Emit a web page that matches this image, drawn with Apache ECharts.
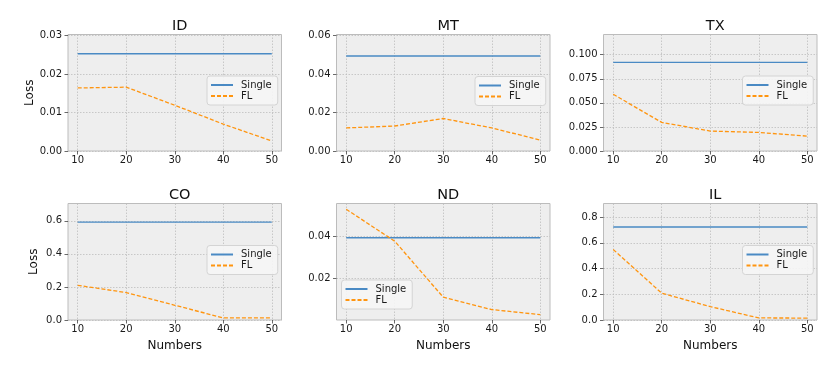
<!DOCTYPE html>
<html>
<head>
<meta charset="utf-8">
<script src="https://cdn.jsdelivr.net/npm/echarts@6/dist/echarts.min.js"></script>
<style>html,body{margin:0;padding:0;background:#fff}#c{width:831px;height:373px}</style>
</head>
<body>
<div id="c"></div>
<script>
var numbers = [10, 20, 30, 40, 50];
var titles = ['ID', 'MT', 'TX', 'CO', 'ND', 'IL'];

var idSingle = [0.0253, 0.0253, 0.0253, 0.0253, 0.0253];
var idFL = [0.0164, 0.0166, 0.0119, 0.0070, 0.0026];
var mtSingle = [0.0494, 0.0494, 0.0494, 0.0494, 0.0494];
var mtFL = [0.0120, 0.0130, 0.0169, 0.0120, 0.0057];
var txSingle = [0.0920, 0.0920, 0.0920, 0.0920, 0.0920];
var txFL = [0.0589, 0.0297, 0.0207, 0.0193, 0.0155];
var coSingle = [0.592, 0.592, 0.592, 0.592, 0.592];
var coFL = [0.210, 0.166, 0.089, 0.013, 0.013];
var ndSingle = [0.0392, 0.0392, 0.0392, 0.0392, 0.0392];
var ndFL = [0.0526, 0.0376, 0.0113, 0.0055, 0.0031];
var ilSingle = [0.722, 0.722, 0.722, 0.722, 0.722];
var ilFL = [0.548, 0.208, 0.104, 0.016, 0.015];

var xTicks = [10, 20, 30, 40, 50];
var idTicks = [0, 0.01, 0.02, 0.03];
var mtTicks = [0, 0.02, 0.04, 0.06];
var txTicks = [0, 0.025, 0.05, 0.075, 0.1];
var coTicks = [0, 0.2, 0.4, 0.6];
var ndTicks = [0.02, 0.04];
var ilTicks = [0, 0.2, 0.4, 0.6, 0.8];

var singles = [idSingle, mtSingle, txSingle, coSingle, ndSingle, ilSingle];
var fls = [idFL, mtFL, txFL, coFL, ndFL, ilFL];
var yTicks = [idTicks, mtTicks, txTicks, coTicks, ndTicks, ilTicks];
var yMin = [0, 0, 0, 0, 0.0006, 0];
var yMax = [0.0303, 0.0606, 0.121, 0.705, 0.0553, 0.905];
var yDec = [2, 2, 3, 1, 2, 1];

var colLeft = [68, 336.5, 603.5];
var rowTop = [34.5, 203.5];
var gw = 213.5, gh = 116.5;
var legendPos = [[207, 76], [475, 76.5], [742.5, 76], [207, 245.5], [341.5, 280], [742.5, 245.5]];

var BLUE = '#4a8ac4', ORANGE = '#ff9510';
var grid = [], xAxis = [], yAxis = [], series = [], title = [], legend = [];

for (var i = 0; i < 6; i++) {
  var r = Math.floor(i / 3), c = i % 3;
  grid.push({left: colLeft[c], top: rowTop[r], width: gw, height: gh, show: true,
    backgroundColor: '#eeeeee', borderColor: '#bcbcbc', borderWidth: 1, containLabel: false});
  title.push({text: titles[i], left: colLeft[c] + gw / 2, top: rowTop[r] - 21, textAlign: 'center',
    textStyle: {fontFamily: 'DejaVu Sans', fontSize: 14.5, fontWeight: 'normal', color: '#111'}});
  xAxis.push({type: 'value', gridIndex: i, min: 8, max: 52,
    name: r === 1 ? 'Numbers' : '', nameLocation: 'middle', nameGap: 20,
    nameTextStyle: {fontFamily: 'DejaVu Sans', fontSize: 12, color: '#111'},
    axisLine: {show: false},
    axisTick: {show: true, length: 3.5, customValues: xTicks, lineStyle: {color: '#444', width: 0.8}},
    axisLabel: {customValues: xTicks, margin: 4, fontFamily: 'DejaVu Sans', fontSize: 10, color: '#1a1a1a'},
    splitLine: {show: true, lineStyle: {color: '#bdbdbd', type: [1.5, 1.5], width: 0.8}}});
  (function (dec) {
    yAxis.push({type: 'value', gridIndex: i, min: yMin[i], max: yMax[i],
      name: c === 0 ? 'Loss' : '', nameLocation: 'middle', nameGap: 28,
      nameTextStyle: {fontFamily: 'DejaVu Sans', fontSize: 12, color: '#111'},
      axisLine: {show: false},
      axisTick: {show: true, length: 3.5, customValues: yTicks[i], lineStyle: {color: '#444', width: 0.8}},
      axisLabel: {customValues: yTicks[i], margin: 6, fontFamily: 'DejaVu Sans', fontSize: 10, color: '#1a1a1a',
        formatter: function (v) { return v.toFixed(dec); }},
      splitLine: {show: true, lineStyle: {color: '#bdbdbd', type: [1.5, 1.5], width: 0.8}}});
  })(yDec[i]);
  series.push({name: 'Single', type: 'line', xAxisIndex: i, yAxisIndex: i, symbol: 'none',
    data: numbers.map(function (n, k) { return [n, singles[i][k]]; }),
    lineStyle: {color: BLUE, width: 1.4}, itemStyle: {color: BLUE}, animation: false});
  series.push({name: 'FL', type: 'line', xAxisIndex: i, yAxisIndex: i, symbol: 'none',
    data: numbers.map(function (n, k) { return [n, fls[i][k]]; }),
    lineStyle: {color: ORANGE, width: 1.3, type: [4, 2]}, itemStyle: {color: ORANGE}, animation: false});
  legend.push({data: ['Single', 'FL'], orient: 'vertical', left: legendPos[i][0], top: legendPos[i][1],
    itemWidth: 22, itemHeight: 12, itemGap: 1, padding: [4, 6, 4, 3],
    itemStyle: {color: 'rgba(0,0,0,0)', borderColor: 'rgba(0,0,0,0)', borderWidth: 0},
    backgroundColor: 'rgba(245,245,245,0.9)', borderColor: '#d4d4d4', borderWidth: 1, borderRadius: 3,
    textStyle: {fontFamily: 'DejaVu Sans', fontSize: 10, color: '#1a1a1a', padding: [0, 0, 0, 3]},
    selectedMode: false});
}

var chart = echarts.init(document.getElementById('c'), null, {renderer: 'canvas'});
chart.setOption({animation: false, title: title, grid: grid, xAxis: xAxis, yAxis: yAxis, legend: legend, series: series});
</script>
</body>
</html>
